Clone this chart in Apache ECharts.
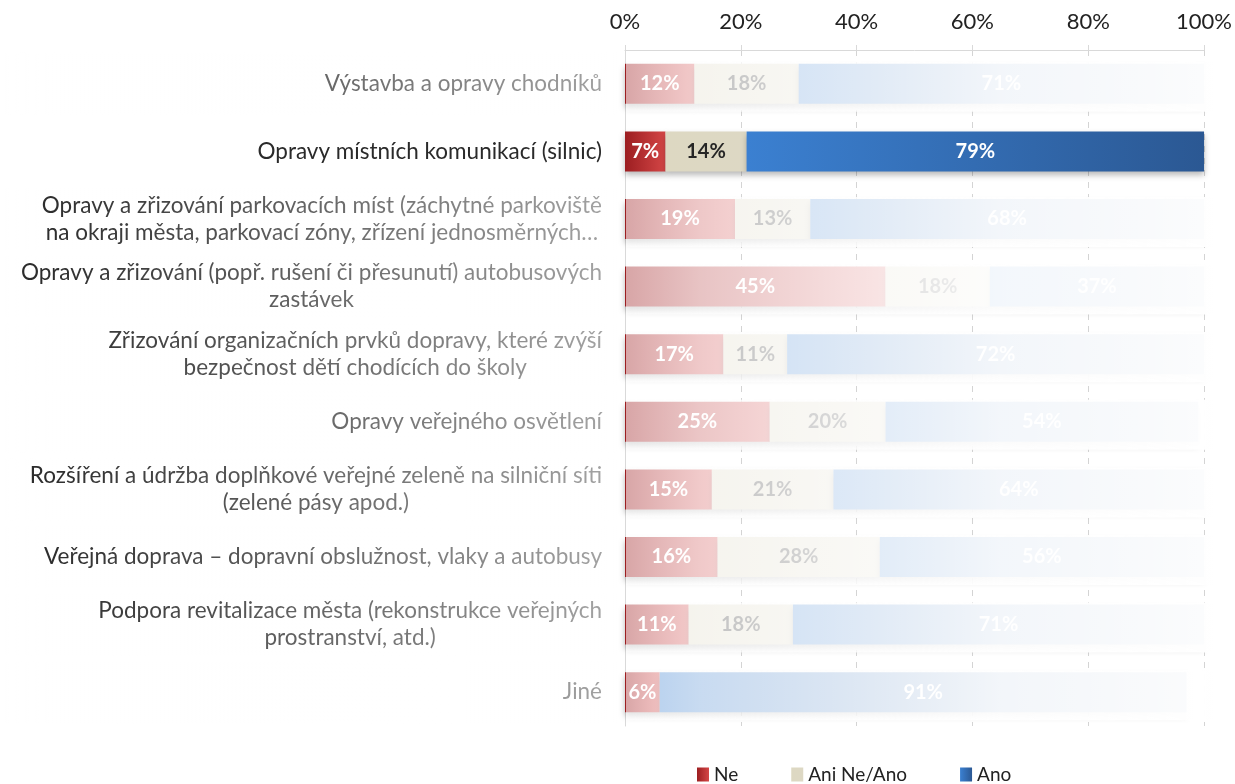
<!DOCTYPE html>
<html lang="cs">
<head>
<meta charset="UTF-8">
<title>Doprava</title>
<script src="https://cdn.jsdelivr.net/npm/echarts@6/dist/echarts.min.js"></script>
</head>
<body style="margin:0">
<div id="main" style="width:1235px;height:784px;"></div>
<script>
var categories = [
    'Výstavba a opravy chodníků',
    'Opravy místních komunikací (silnic)',
    'Opravy a zřizování parkovacích míst (záchytné parkoviště\nna okraji města, parkovací zóny, zřízení jednosměrných…',
    'Opravy a zřizování (popř. rušení či přesunutí) autobusových\nzastávek',
    'Zřizování organizačních prvků dopravy, které zvýší\nbezpečnost dětí chodících do školy',
    'Opravy veřejného osvětlení',
    'Rozšíření a údržba doplňkové veřejné zeleně na silniční síti\n(zelené pásy apod.)',
    'Veřejná doprava – dopravní obslužnost, vlaky a autobusy',
    'Podpora revitalizace města (rekonstrukce veřejných\nprostranství, atd.)',
    'Jiné'
];
var seriesNames = ['Ne', 'Ani Ne/Ano', 'Ano'];
var ne = [12, 7, 19, 45, 17, 25, 15, 16, 11, 6];
var ani = [18, 14, 13, 18, 11, 20, 21, 28, 18, 0];
var ano = [71, 79, 68, 37, 72, 54, 64, 56, 71, 91];
var xTicks = [0, 20, 40, 60, 80, 100];
var highlighted = 1; // jediný řádek bez zesvětlení

var font = 'Lato';

function grad(c1, c2) {
    return { type: 'linear', x: 0, y: 0, x2: 1, y2: 0, colorStops: [{ offset: 0, color: c1 }, { offset: 1, color: c2 }] };
}

function bar(name, data, color, labelColor) {
    return {
        name: name,
        type: 'bar',
        stack: 'all',
        barWidth: 40,
        data: data,
        itemStyle: {
            color: color,
            shadowBlur: 6,
            shadowOffsetY: 4,
            shadowColor: 'rgba(0,0,0,0.28)'
        },
        label: {
            show: true,
            position: 'inside',
            fontFamily: font,
            fontWeight: 'bold',
            fontSize: 20,
            color: labelColor,
            formatter: function (p) { return p.value ? p.value + '%' : ''; }
        }
    };
}

var myChart = echarts.init(document.getElementById('main'));

var option = {
    animation: false,
    grid: { left: 625, right: 30, top: 50, bottom: 58 },
    legend: {
        left: 692,
        top: 760,
        itemWidth: 12,
        itemHeight: 14,
        itemGap: 53,
        icon: 'rect',
        textStyle: { fontFamily: font, fontSize: 19, color: '#222' },
        data: seriesNames
    },
    xAxis: {
        type: 'value',
        position: 'top',
        min: xTicks[0],
        max: xTicks[xTicks.length - 1],
        interval: xTicks[1] - xTicks[0],
        axisLine: { show: true, lineStyle: { color: '#d9d9d9' } },
        axisTick: { show: true, length: 5, lineStyle: { color: '#d9d9d9' } },
        axisLabel: { formatter: '{value}%', fontFamily: font, fontSize: 22, color: '#222', margin: 17 },
        splitLine: { show: true, lineStyle: { color: '#d4d4d4', type: [6, 6] } }
    },
    yAxis: {
        type: 'category',
        inverse: true,
        data: categories,
        axisLine: { show: true, lineStyle: { color: '#d9d9d9' } },
        axisTick: { show: false },
        axisLabel: {
            margin: 23,
            align: 'right',
            formatter: function (v) {
                return v.split('\n').map(function (s) { return '{c|' + s + '}'; }).join('\n');
            },
            rich: {
                c: { align: 'center', fontFamily: font, fontSize: 22.5, lineHeight: 27, color: '#2a2a2a' }
            }
        }
    },
    series: [
        bar(seriesNames[0], ne, grad('#9c1e21', '#d44646'), '#fff'),
        bar(seriesNames[1], ani, grad('#ddd8c2', '#ddd8c4'), '#262626'),
        bar(seriesNames[2], ano, grad('#3b80d1', '#2b5893'), '#fff')
    ]
};

myChart.setOption(option);

// bílý přechod přes všechny řádky kromě zvýrazněného
function fadeRows() {
    var x0 = myChart.convertToPixel({ xAxisIndex: 0 }, xTicks[0]);
    var x1 = myChart.convertToPixel({ xAxisIndex: 0 }, xTicks[xTicks.length - 1]);
    var fade = {
        type: 'linear', x: 0, y: 0, x2: 1235, y2: 0, global: true,
        colorStops: [
            { offset: 0, color: 'rgba(255,255,255,0)' },
            { offset: 50 / 1235, color: 'rgba(255,255,255,0.02)' },
            { offset: 600 / 1235, color: 'rgba(255,255,255,0.56)' },
            { offset: 700 / 1235, color: 'rgba(255,255,255,0.72)' },
            { offset: 1000 / 1235, color: 'rgba(255,255,255,0.94)' },
            { offset: 1, color: 'rgba(255,255,255,0.99)' }
        ]
    };
    var els = [];
    categories.forEach(function (c, i) {
        if (i === highlighted) return;
        var y = myChart.convertToPixel({ yAxisIndex: 0 }, i);
        els.push({ type: 'rect', silent: true, z: 100, shape: { x: 0, y: y - 31, width: x0 - 8, height: 62 }, style: { fill: fade } });
        els.push({ type: 'rect', silent: true, z: 100, shape: { x: x0 + 1, y: y - 22, width: x1 - x0 + 8, height: 50 }, style: { fill: fade } });
    });
    myChart.setOption({ graphic: els });
}
fadeRows();
</script>
</body>
</html>
